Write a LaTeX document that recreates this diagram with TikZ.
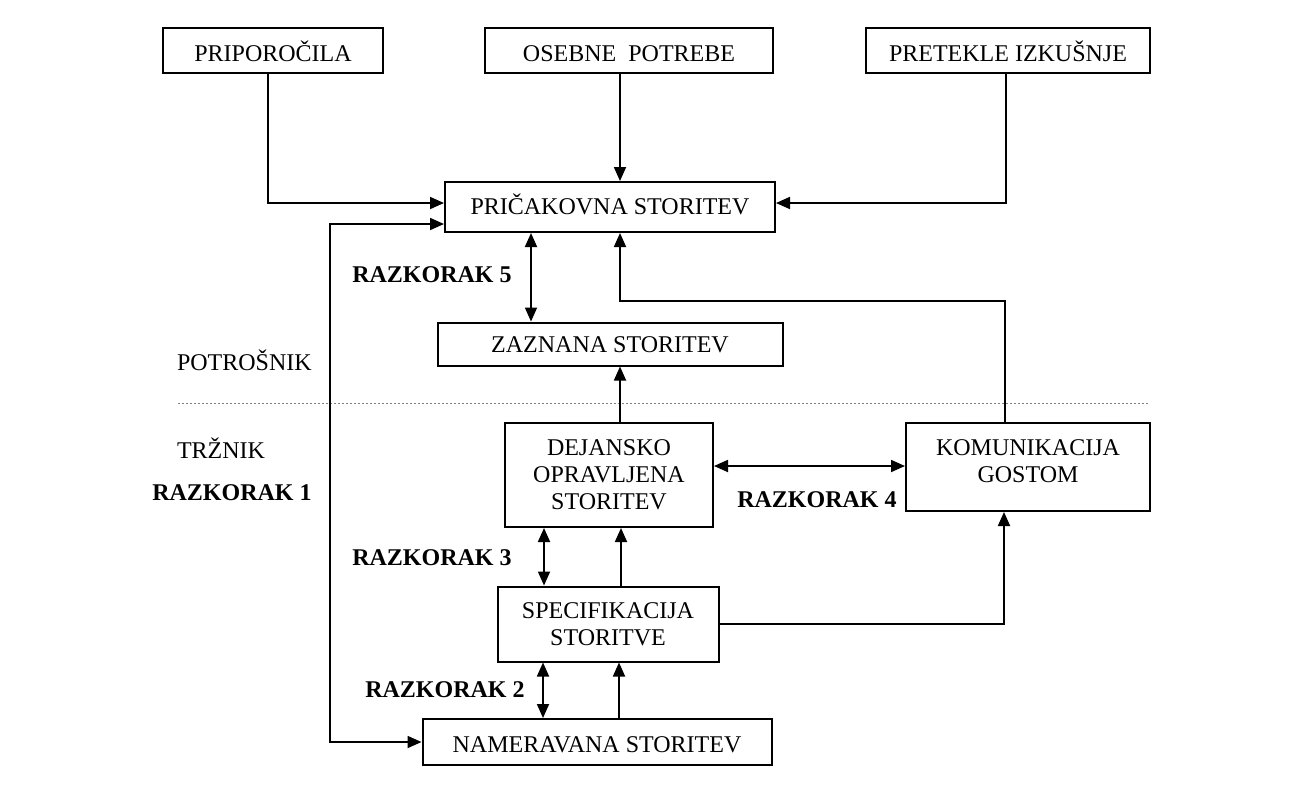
\documentclass[tikz,border=0pt]{standalone}
\usepackage{fontspec}
\setmainfont{Liberation Serif}
\usetikzlibrary{arrows.meta}
\begin{document}
\begin{tikzpicture}[x=0.5pt,y=-0.5pt,
  box/.style={draw,line width=1pt,inner sep=0pt,align=center,
    font=\fontsize{12}{13.6}\selectfont},
  % single-line box whose baseline sits #1 below the box centre
  onebox/.style={box,text height=6pt+#1,text depth=6pt-#1},
  onebox/.default=3pt,
  gap/.style={font=\fontsize{12}{14}\selectfont\bfseries},
  side/.style={font=\fontsize{12}{14}\selectfont,anchor=west},
  arr/.style={line width=0.9pt,-{Triangle[length=7pt,width=6pt]}},
  darr/.style={line width=0.9pt,{Triangle[length=7pt,width=6pt]}-{Triangle[length=7pt,width=6pt]}}]
\useasboundingbox (0,0) rectangle (1308,800);

% boxes
\node[onebox=5.5pt,minimum width=110pt,minimum height=22.5pt] (pri) at (273,50) {PRIPOROČILA};
\node[onebox=5.5pt,minimum width=144pt,minimum height=22.5pt] (ose) at (629,50) {OSEBNE\ \ POTREBE};
\node[onebox=5.5pt,minimum width=142pt,minimum height=22.5pt] (pre) at (1008,50) {PRETEKLE IZKUŠNJE};
\node[onebox=3.5pt,minimum width=165pt,minimum height=25pt] (prick) at (610,207) {PRIČAKOVNA STORITEV};
\node[onebox=4.25pt,minimum width=172.5pt,minimum height=21.5pt] (zaz) at (610,344) {ZAZNANA STORITEV};
\node[box,minimum width=104pt,minimum height=52pt] (dej) at (609,475) {DEJANSKO\\OPRAVLJENA\\STORITEV};
\node[box,minimum width=122pt,minimum height=44pt,
  label={[font=\fontsize{12}{13.6}\selectfont,align=center,yshift=3pt]center:KOMUNIKACIJA\\GOSTOM}] (kom) at (1028,467) {};
\node[box,minimum width=110.5pt,minimum height=37.5pt] (spec) at (608,624) {SPECIFIKACIJA\\STORITVE};
\node[onebox=5pt,minimum width=174.5pt,minimum height=23pt] (nam) at (597,742) {NAMERAVANA STORITEV};

% side labels
\node[side] (potr) at (170,360) {POTROŠNIK};
\node[side] (trz) at (170,448) {TRŽNIK};
\node[gap] (g1) at (232,493) {RAZKORAK 1};
\node[gap] (g2) at (445,690) {RAZKORAK 2};
\node[gap] (g3) at (432,558) {RAZKORAK 3};
\node[gap] (g4) at (817,500) {RAZKORAK 4};
\node[gap] (g5) at (432,275) {RAZKORAK 5};

% consumer / marketer divide
\coordinate (dl) at (178,403);
\coordinate (dr) at (1148,403);
\draw[line width=0.5pt,gray,dash pattern=on 1pt off 1pt] (dl) -- (dr);

% bends
\coordinate (b1) at (330,224);
\coordinate (b2) at (330,742);
\coordinate (k1) at (620,301);

% inputs to expected service
\draw[arr] ([xshift=-2.5pt]pri.south) |- ([yshift=2pt]prick.west);
\draw[arr] ([xshift=-4.5pt]ose.south) -- ([xshift=5pt]prick.north);
\draw[arr] ([xshift=-1pt]pre.south) |- ([yshift=2pt]prick.east);

% gap 1
\draw[darr] ([yshift=-8.5pt]prick.west) -- (b1) -- (b2) -- (nam.west);

% gap 5
\draw[darr] ([xshift=-39.5pt]prick.south) -- ([xshift=-39.5pt]zaz.north);

% communication back to expected service
\draw[arr] ([xshift=-11.5pt]kom.north) |- (k1) -- ([xshift=5pt]prick.south);

% delivered to perceived
\draw[arr] ([xshift=5.5pt]dej.north) -- ([xshift=5.5pt]dej.north |- zaz.south);

% gap 4
\draw[darr] ([yshift=4.5pt]dej.east) -- ([yshift=4.5pt]dej.east -| kom.west);

% gap 3 and specification to delivery
\draw[darr] ([xshift=-32.5pt]dej.south) -- ([xshift=-32.5pt]dej.south |- spec.north);
\draw[arr] ([xshift=6.5pt]spec.north) -- ([xshift=6.5pt]spec.north |- dej.south);

% gap 2 and intended to specification
\draw[darr] ([xshift=-32.5pt]spec.south) -- ([xshift=-32.5pt]spec.south |- nam.north);
\draw[arr] ([xshift=11pt]nam.north) -- ([xshift=11pt]nam.north |- spec.south);

% specification to communication
\draw[arr] (spec.east) -| ([xshift=-12pt]kom.south);
\end{tikzpicture}
\end{document}
